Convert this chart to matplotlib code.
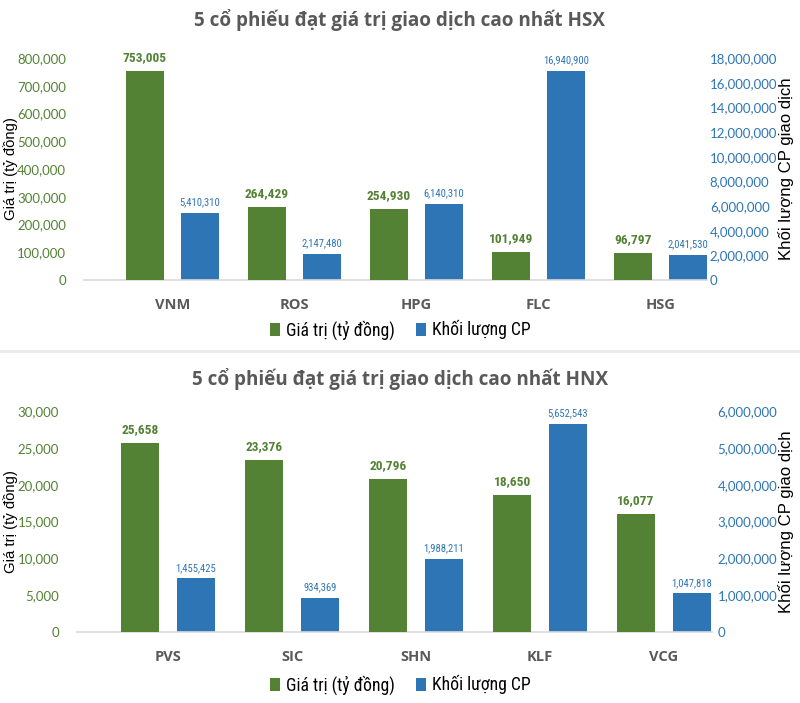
import matplotlib
matplotlib.use("Agg")
import matplotlib.pyplot as plt
from matplotlib import font_manager
from matplotlib.patches import Rectangle, Patch
from matplotlib.ticker import FuncFormatter

# ---------------- data ----------------
hsx_tickers = ["VNM", "ROS", "HPG", "FLC", "HSG"]
hsx_value = [753005, 264429, 254930, 101949, 96797]
hsx_volume = [5410310, 2147480, 6140310, 16940900, 2041530]
hsx_left_ticks = [0, 100000, 200000, 300000, 400000, 500000, 600000, 700000, 800000]
hsx_right_ticks = [0, 2000000, 4000000, 6000000, 8000000, 10000000, 12000000,
                   14000000, 16000000, 18000000]

hnx_tickers = ["PVS", "SIC", "SHN", "KLF", "VCG"]
hnx_value = [25658, 23376, 20796, 18650, 16077]
hnx_volume = [1455425, 934369, 1988211, 5652543, 1047818]
hnx_left_ticks = [0, 5000, 10000, 15000, 20000, 25000, 30000]
hnx_right_ticks = [0, 1000000, 2000000, 3000000, 4000000, 5000000, 6000000]

title_hsx = "5 cổ phiếu đạt giá trị giao dịch cao nhất HSX"
title_hnx = "5 cổ phiếu đạt giá trị giao dịch cao nhất HNX"
label_left = "Giá trị (tỷ đồng)"
label_right = "Khối lượng CP giao dịch"
legend_labels = ["Giá trị (tỷ đồng)", "Khối lượng CP"]

# ---------------- style ----------------
GREEN = "#548235"
BLUE = "#2E75B6"
GRAY = "#595959"

entries = font_manager.fontManager.ttflist
names = {f.name for f in entries}

NARROW = None
NARROW_STRETCH = "normal"
for cand in ["Liberation Sans Narrow", "Arial Narrow", "Roboto Condensed",
             "DejaVu Sans Condensed", "Open Sans Condensed", "Noto Sans Condensed"]:
    if cand in names:
        NARROW = cand
        break
if NARROW is None:
    for fam in ["Noto Sans", "Open Sans", "DejaVu Sans", "Roboto"]:
        if any(f.name == fam and str(f.stretch) in ("condensed", "semi-condensed", "extra-condensed", "500", "400", "300")
               and str(f.stretch) not in ("normal",) for f in entries):
            NARROW = fam
            NARROW_STRETCH = "condensed"
            break
if NARROW is None:
    NARROW = "Liberation Sans"

TICKF = "Lato" if "Lato" in names else "DejaVu Sans"
TITLEF = "Open Sans" if "Open Sans" in names else "DejaVu Sans"
ARIAL = "Liberation Sans"

W, H = 800, 703
fig = plt.figure(figsize=(W / 100, H / 100), dpi=100)
renderer = fig.canvas.get_renderer()


def fit(text, target_px, **kw):
    t = fig.text(0, 0, text, fontsize=10, **kw)
    w = t.get_window_extent(renderer).width
    t.remove()
    return 10 * target_px / w


def fx(px):
    return px / W


def fy(py):
    return 1 - py / H


NKW = dict(fontfamily=NARROW, fontstretch=NARROW_STRETCH)
title_size = fit(title_hsx, 413, fontfamily=TITLEF, fontweight="bold")
green_size = fit("753,005", 44, fontweight="bold", **NKW)
blue_size = fit("16,940,900", 46, **NKW)
cat_size = fit("VNM", 35, fontfamily=TITLEF, fontweight="bold")
left_lab_size = fit(label_left, 103, fontfamily=ARIAL)
right_lab_size = fit(label_right, 182, fontfamily=ARIAL)
legend_size = fit(legend_labels[0], 108, **NKW)


def draw(x0, x1, ytop, ybot, first_c, spacing, tickers, vals, vols,
         lticks, rticks, title, title_y, legend_y, rpad):
    ax = fig.add_axes([fx(x0), fy(ybot), fx(x1) - fx(x0), fy(ytop) - fy(ybot)])
    ax2 = ax.twinx()
    n = len(tickers)
    xs = list(range(n))
    off, bw = 0.225, 0.31
    gb = ax.bar([x - off for x in xs], vals, width=bw, color=GREEN, zorder=3)
    bb = ax2.bar([x + off for x in xs], vols, width=bw, color=BLUE, zorder=3)
    ax.set_xlim((x0 - first_c) / spacing, (x1 - first_c) / spacing)
    ax.set_ylim(lticks[0], lticks[-1])
    ax2.set_ylim(rticks[0], rticks[-1])
    ax.set_yticks(lticks)
    ax2.set_yticks(rticks)
    fmt = FuncFormatter(lambda v, p: f"{int(v):,}")
    ax.yaxis.set_major_formatter(fmt)
    ax2.yaxis.set_major_formatter(fmt)
    ax.set_xticks(xs)
    ax.set_xticklabels(tickers, fontfamily=TITLEF, fontweight="bold",
                       fontsize=cat_size, color=GRAY)
    ax.tick_params(axis="x", length=0, pad=13)
    ax.tick_params(axis="y", length=0, pad=13, labelsize=9.5, labelcolor=GREEN)
    ax2.tick_params(axis="y", length=0, pad=rpad, labelsize=9.5, labelcolor=BLUE)
    for lab in ax.get_yticklabels():
        lab.set_fontfamily(TICKF)
    for lab in ax2.get_yticklabels():
        lab.set_fontfamily(TICKF)
    for a in (ax, ax2):
        for s in a.spines.values():
            s.set_visible(False)
    ax.spines["bottom"].set_visible(True)
    ax.spines["bottom"].set_color("#D9D9D9")
    ax.spines["bottom"].set_linewidth(1.2)
    ax.set_zorder(ax2.get_zorder() + 1)
    ax.patch.set_visible(False)
    for rect, v in zip(gb, vals):
        ax.annotate(f"{v:,}", (rect.get_x() + rect.get_width() / 2, rect.get_height()),
                    xytext=(0, 5), textcoords="offset points", ha="center", va="bottom",
                    fontweight="bold", fontsize=green_size, color=GREEN, **NKW)
    for rect, v in zip(bb, vols):
        ax2.annotate(f"{v:,}", (rect.get_x() + rect.get_width() / 2, rect.get_height()),
                     xytext=(0, 4), textcoords="offset points", ha="center", va="bottom",
                     fontsize=blue_size, color=BLUE, **NKW)
    fig.text(0.5, fy(title_y), title, ha="center", va="center",
             fontfamily=TITLEF, fontweight="bold", fontsize=title_size, color=GRAY)
    yc = (ytop + ybot) / 2
    fig.text(fx(11), fy(yc), label_left, rotation=90, ha="center", va="center",
             fontfamily=ARIAL, fontsize=left_lab_size, color="black")
    fig.text(fx(786), fy(yc), label_right, rotation=90, ha="center", va="center",
             fontfamily=ARIAL, fontsize=right_lab_size, color="black")
    handles = [Patch(facecolor=GREEN), Patch(facecolor=BLUE)]
    fig.legend(handles, legend_labels, loc="center", bbox_to_anchor=(0.5, fy(legend_y)),
               ncol=2, frameon=False,
               prop={"family": NARROW, "stretch": NARROW_STRETCH, "size": legend_size},
               handlelength=0.6, handleheight=0.8, handletextpad=0.3, columnspacing=1.2)


draw(84, 707, 58, 280, 172.5, 122, hsx_tickers, hsx_value, hsx_volume,
     hsx_left_ticks, hsx_right_ticks, title_hsx, 20, 330, 2)
draw(77, 712, 411, 632, 168, 124, hnx_tickers, hnx_value, hnx_volume,
     hnx_left_ticks, hnx_right_ticks, title_hnx, 379, 685, 4)

fig.patches.append(Rectangle((0, fy(353)), 1, 3 / H, transform=fig.transFigure,
                             facecolor="#EBEBEB", edgecolor="none"))

fig.savefig("out.png", dpi=100)
